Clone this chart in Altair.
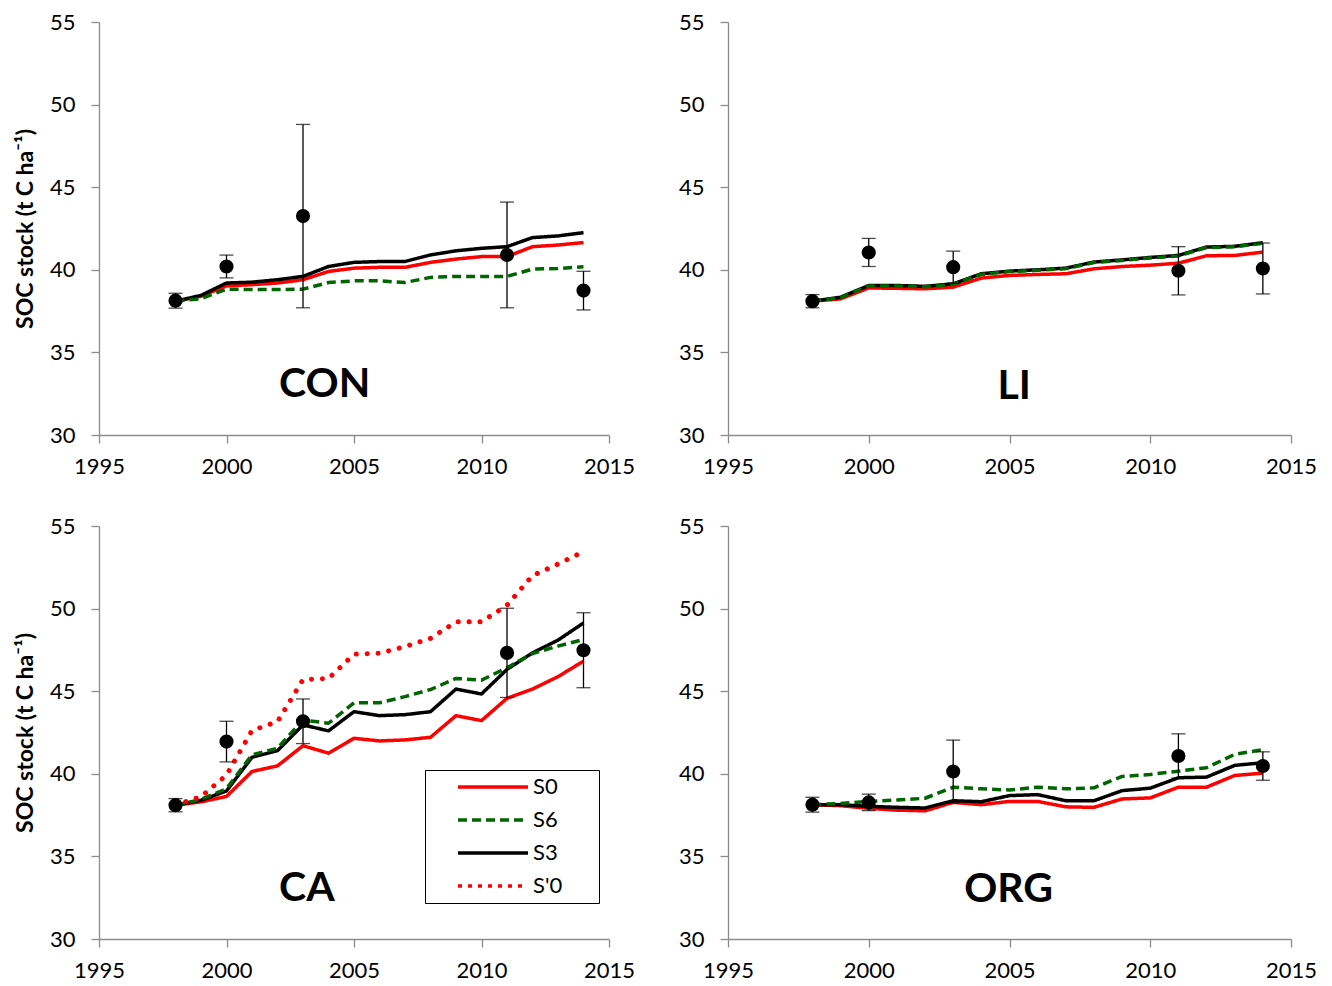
import altair as alt
import pandas as pd

years = list(range(1998, 2015))
series_names = ["S0", "S6", "S3", "S'0"]
series_colors = ["#FF0000", "#006400", "#000000", "#FF0000"]

# ---- CON ----
con_s0 = [38.1, 38.4, 39.03, 39.1, 39.2, 39.4, 39.9, 40.1, 40.15, 40.15, 40.45, 40.65, 40.8, 40.8, 41.4, 41.5, 41.65]
con_s3 = [38.1, 38.45, 39.2, 39.25, 39.4, 39.6, 40.2, 40.45, 40.5, 40.5, 40.9, 41.15, 41.3, 41.4, 41.95, 42.05, 42.25]
con_s6 = [38.1, 38.25, 38.83, 38.8, 38.8, 38.83, 39.23, 39.33, 39.33, 39.23, 39.54, 39.6, 39.6, 39.6, 40.04, 40.08, 40.18]

# ---- LI ----
li_s0 = [38.1, 38.24, 38.9, 38.88, 38.85, 38.95, 39.5, 39.66, 39.72, 39.76, 40.06, 40.2, 40.28, 40.4, 40.85, 40.87, 41.07]
li_s3 = [38.1, 38.34, 39.05, 39.05, 39.0, 39.15, 39.76, 39.92, 40.0, 40.1, 40.47, 40.6, 40.75, 40.87, 41.38, 41.42, 41.64]
li_s6 = [38.1, 38.32, 39.02, 39.02, 38.97, 39.12, 39.73, 39.89, 39.97, 40.07, 40.44, 40.57, 40.72, 40.84, 41.35, 41.39, 41.61]

# ---- CA ----
ca_s0 = [38.1, 38.3, 38.63, 40.14, 40.48, 41.7, 41.25, 42.15, 41.99, 42.05, 42.21, 43.52, 43.22, 44.57, 45.13, 45.88, 46.82]
ca_s3 = [38.1, 38.4, 38.96, 41.0, 41.4, 42.96, 42.6, 43.76, 43.52, 43.58, 43.76, 45.13, 44.83, 46.32, 47.32, 48.09, 49.13]
ca_s6 = [38.1, 38.45, 39.1, 41.15, 41.55, 43.26, 43.06, 44.3, 44.3, 44.67, 45.1, 45.77, 45.67, 46.42, 47.28, 47.73, 48.13]
ca_sp0 = [38.1, 38.62, 39.92, 42.62, 43.16, 45.7, 45.77, 47.24, 47.3, 47.7, 48.2, 49.2, 49.2, 50.2, 52.0, 52.7, 53.45]

# ---- ORG ----
org_s0 = [38.13, 38.07, 37.91, 37.8, 37.76, 38.27, 38.13, 38.33, 38.33, 38.0, 37.97, 38.48, 38.54, 39.19, 39.19, 39.9, 40.04]
org_s3 = [38.13, 38.13, 38.03, 37.97, 37.93, 38.37, 38.31, 38.68, 38.74, 38.37, 38.37, 38.98, 39.13, 39.76, 39.8, 40.51, 40.67]
org_s6 = [38.13, 38.2, 38.33, 38.41, 38.52, 39.19, 39.09, 39.02, 39.19, 39.09, 39.15, 39.84, 39.96, 40.16, 40.37, 41.18, 41.46]

# ---- observations (mean, +/- error) ----
obs_years = [1998, 2000, 2003, 2011, 2014]
con_obs = [38.13, 40.2, 43.25, 40.9, 38.74]
con_err = [0.45, 0.69, 5.55, 3.2, 1.17]
li_obs = [38.1, 41.05, 40.16, 39.94, 40.08]
li_err = [0.4, 0.85, 0.97, 1.46, 1.54]
ca_obs = [38.1, 41.95, 43.18, 47.32, 47.48]
ca_err = [0.4, 1.23, 1.35, 2.7, 2.27]
org_obs = [38.13, 38.27, 40.14, 41.08, 40.47]
org_err = [0.45, 0.5, 1.9, 1.34, 0.86]

# panel labels (name, year position, value position)
panel_names = ["CON", "LI", "CA", "ORG"]
label_x = [2003.85, 2005.17, 2003.15, 2004.97]
label_y = [33.05, 32.9, 33.0, 32.95]

FONT = "Lato"
AXIS_GREY = "#8C8C8C"
Y_TITLE = "SOC stock (t C ha\u207b\u00b9)"


def line_df(series_map):
    rows = []
    for s, vals in series_map.items():
        for yr, v in zip(years, vals):
            rows.append({"series": s, "year": yr, "value": v})
    return pd.DataFrame(rows)


def obs_df(means, errs):
    return pd.DataFrame({
        "year": obs_years,
        "value": means,
        "lo": [m - e for m, e in zip(means, errs)],
        "hi": [m + e for m, e in zip(means, errs)],
    })


def make_panel(idx, series_map, means, errs, width, height, left, legend_on):
    ldf = line_df(series_map)
    odf = obs_df(means, errs)
    x = alt.X("year:Q",
              scale=alt.Scale(domain=[1995, 2015], nice=False, zero=False),
              axis=alt.Axis(values=[1995, 2000, 2005, 2010, 2015], format="d", title=None,
                            labelFlush=False, labelOverlap=False, labelPadding=13))
    y_axis_kwargs = dict(values=[30, 35, 40, 45, 50, 55], labelPadding=16, labelFlush=False,
                         labelOverlap=False)
    if left:
        y_axis = alt.Axis(title=Y_TITLE, titleFont=FONT, titleFontSize=23, titleFontWeight="bold",
                          titlePadding=12, titleColor="black", **y_axis_kwargs)
    else:
        y_axis = alt.Axis(title=None, **y_axis_kwargs)
    y = alt.Y("value:Q", scale=alt.Scale(domain=[30, 55], nice=False, zero=False), axis=y_axis)

    if legend_on:
        # invisible title on the right only widens the legend frame
        leg = alt.Legend(title="XX", titleOrient="right", titleFontSize=16, titleColor="#ffffff",
                         titlePadding=9, orient="none", legendX=326, legendY=244,
                         symbolType="stroke", symbolSize=4900, symbolStrokeWidth=3.5,
                         clipHeight=22,
                         labelFont=FONT, labelFontSize=22, labelColor="black",
                         strokeColor="black", fillColor="white", padding=6,
                         rowPadding=11, labelOffset=3, symbolOffset=25)
    else:
        leg = None
    color = alt.Color("series:N", scale=alt.Scale(domain=series_names, range=series_colors), legend=leg)
    dash = alt.StrokeDash("series:N",
                          scale=alt.Scale(domain=series_names,
                                          range=[[1, 0], [9, 5], [1, 0], [4, 6]]),
                          legend=leg)

    layers = []
    for s in ["S0", "S3", "S6"]:
        if s in series_map:
            layers.append(
                alt.Chart(ldf).transform_filter(alt.datum.series == s)
                .mark_line(strokeWidth=3.5, strokeJoin="round")
                .encode(x=x, y=y, color=color, strokeDash=dash)
            )
    if "S'0" in series_map:
        layers.append(
            alt.Chart(ldf).transform_filter(alt.datum.series == "S'0")
            .mark_line(strokeWidth=5, strokeCap="round", strokeDash=[0.1, 10.8])
            .encode(x=x, y=y, color=color)
        )
    bars = alt.Chart(odf).mark_rule(color="black", strokeWidth=1.3).encode(
        x=x, y=alt.Y("lo:Q", scale=alt.Scale(domain=[30, 55], nice=False, zero=False)), y2="hi:Q")
    cap_lo = alt.Chart(odf).mark_tick(color="black", thickness=1.3, size=14, orient="horizontal").encode(
        x=x, y=alt.Y("lo:Q"))
    cap_hi = alt.Chart(odf).mark_tick(color="black", thickness=1.3, size=14, orient="horizontal").encode(
        x=x, y=alt.Y("hi:Q"))
    pts = alt.Chart(odf).mark_point(filled=True, size=200, color="black", opacity=1).encode(x=x, y=y)
    lab_df = pd.DataFrame({"name": [panel_names[idx]], "year": [label_x[idx]], "value": [label_y[idx]]})
    lab = alt.Chart(lab_df).mark_text(font=FONT, fontSize=41, fontWeight="bold", color="black",
                                      align="center", baseline="middle").encode(x=x, y=y, text="name:N")
    return alt.layer(*layers, bars, cap_lo, cap_hi, pts, lab).properties(width=width, height=height)


LW, RW, H = 510, 563, 413

con = make_panel(0, {"S0": con_s0, "S3": con_s3, "S6": con_s6}, con_obs, con_err, LW, H, True, False)
li = make_panel(1, {"S0": li_s0, "S3": li_s3, "S6": li_s6}, li_obs, li_err, RW, H, False, False)
ca = make_panel(2, {"S0": ca_s0, "S3": ca_s3, "S6": ca_s6, "S'0": ca_sp0}, ca_obs, ca_err, LW, H, True, True)
org = make_panel(3, {"S0": org_s0, "S3": org_s3, "S6": org_s6}, org_obs, org_err, RW, H, False, False)

top = alt.hconcat(con, li, spacing=43).resolve_scale(color="independent", strokeDash="independent")
bottom = alt.hconcat(ca, org, spacing=43).resolve_scale(color="independent", strokeDash="independent")

chart = alt.vconcat(top, bottom, spacing=38).resolve_scale(
    color="independent", strokeDash="independent"
).properties(
    padding={"top": 3, "left": 6, "right": 0, "bottom": 0},
    background="white"
).configure_view(stroke=None).configure_axis(
    grid=False, domainColor=AXIS_GREY, tickColor=AXIS_GREY, domainWidth=1.3, tickWidth=1.3,
    tickSize=8, labelFont=FONT, labelFontSize=22, labelColor="black"
)

chart.save("out.html", embed_options={"renderer": "svg", "actions": False})
